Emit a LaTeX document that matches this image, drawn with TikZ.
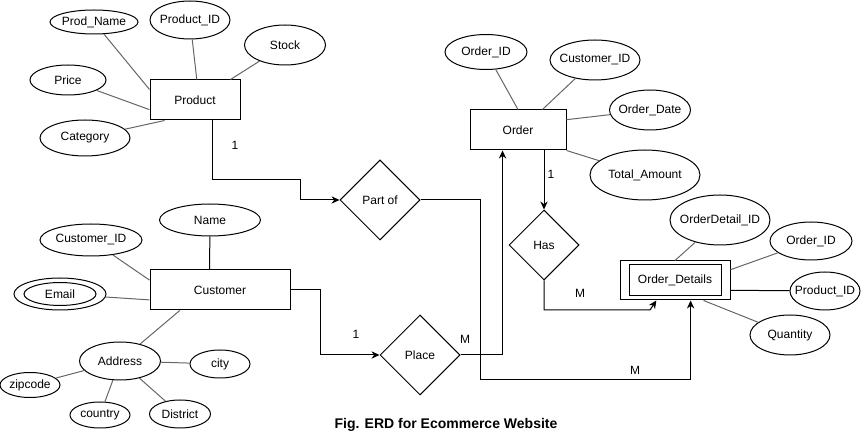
\documentclass[tikz,border=0pt]{standalone}
\usepackage{fontspec}
\setmainfont{Liberation Sans}
\usetikzlibrary{shapes.geometric,arrows.meta,calc,positioning}
\definecolor{AttrGray}{RGB}{102,102,102}
\tikzset{
  entity/.style 2 args={draw,rectangle,line width=0.75pt,inner sep=0pt,
               minimum width=0.75pt*#1,minimum height=0.75pt*#2,
               font=\fontsize{9}{11}\selectfont},
  attr/.style 2 args={draw,ellipse,line width=0.75pt,inner sep=0pt,
               minimum width=0.75pt*#1,minimum height=0.75pt*#2,
               font=\fontsize{9}{11}\selectfont,
               execute at begin node={\setbox0=\hbox\bgroup},
               execute at end node={\egroup\hbox to 0pt{\hss\box0\hss}}},
  relation/.style={draw,diamond,line width=0.75pt,inner sep=0pt,
               minimum width=0.75pt*#1,minimum height=0.75pt*#1,
               font=\fontsize{9}{11}\selectfont},
  attline/.style={AttrGray,line width=0.75pt},
  link/.style={-{Stealth[length=6pt,width=5.5pt]},line width=0.75pt},
  card/.style={inner sep=0pt,font=\fontsize{9}{11}\selectfont},
}

\begin{document}
\begin{tikzpicture}[x=0.75pt,y=-0.75pt]
\useasboundingbox (0,0) rectangle (861,441);

\node[entity={90}{40}] (prod) at (195,100) {Product};
\node[attr={88}{24}] (pname) at (94,22) {Prod\_Name};
\node[attr={80}{38}] (pid) at (190,20) {Product\_ID};
\node[attr={81}{40}] (stock) at (285,45) {Stock};
\node[attr={76}{30}] (price) at (68,80) {Price};
\node[attr={90}{36}] (cat) at (85,138) {Category};

\node[entity={96}{40}] (order) at (518,130) {Order};
\node[attr={82}{35}] (oid) at (486,52) {Order\_ID};
\node[attr={90}{40}] (ocid) at (595,60) {Customer\_ID};
\node[attr={81}{40}] (odate) at (650,110) {Order\_Date};
\node[attr={110}{50}] (oamt) at (645,175) {Total\_Amount};

\node[entity={140}{40}] (cust) at (220,290) {Customer};
\node[attr={101}{32}] (cname) at (210,220) {Name};
\node[attr={102}{32}] (cid) at (91,240) {Customer\_ID};
\node[attr={92}{32}] (email) at (60,294) {Email};
\draw[line width=0.75pt] (email.center) ellipse [x radius=27pt,y radius=8.6pt];
\node[attr={81}{38}] (addr) at (120,361) {Address};
\node[attr={60}{28}] (city) at (220,364) {city};
\node[attr={60}{25}] (zip) at (30,385) {zipcode};
\node[attr={60}{26}] (country) at (100,415) {country};
\node[attr={61}{28}] (district) at (180,414) {District};

\node[relation=80] (partof) at (380,200) {Part of};
\node[relation=80] (place) at (420,355) {Place};
\node[relation=70] (has) at (544,245) {Has};

\node[entity={110}{39}] (odet) at (675,280.5) {Order\_Details};
\draw[line width=0.75pt] ($(odet.south west)+(7.5pt,3.75pt)$) rectangle ($(odet.north east)+(-6.75pt,-3pt)$);
\node[attr={100}{50}] (odid) at (720,220) {OrderDetail\_ID};
\node[attr={82}{38}] (doid) at (811,241) {Order\_ID};
\node[attr={70}{38}] (dpid) at (825,291) {Product\_ID};
\node[attr={80}{40}] (qty) at (790,335) {Quantity};

\draw[attline] (pname) -- (prod.167);
\draw[attline] (pid) -- (prod.85);
\draw[attline] (stock) -- (prod.30);
\draw[attline] (price) -- (prod.192);
\draw[attline] (cat) -- (prod.214);
\draw[attline] (oid) -- (order.north);
\draw[attline] (ocid) -- (order.40);
\draw[attline] (odate) -- (order.12);
\draw[attline] (oamt) -- (order.south east);
\draw[line width=0.75pt] (cname) -- (cust.117);
\draw[attline] (cid) -- (cust.172);
\draw[attline] (email) -- (cust.188);
\draw[attline] (addr) -- (cust.207);
\draw[attline] (addr) -- (city);
\draw[attline] (addr) -- (zip);
\draw[attline] (addr) -- (country);
\draw[attline] (addr) -- (district);
\draw[attline] (odid) -- (odet.north);
\draw[attline] (doid) -- (odet.11);
\draw[line width=0.75pt] (dpid) -- (odet.-10);
\draw[attline] (qty) -- (odet.-35);

\coordinate (pb) at (300,180);
\coordinate (cb) at (320,290);
\coordinate (pob) at (480,380);
\coordinate (hb) at (650,310);

\draw[link] (prod.-50) |- (pb) |- (partof.west);
\draw[link] (cust.east) -- (cb) |- (place.west);
\draw[link] (place.east) -| (order.233);
\draw[link] (partof.east) -| (pob) -| (odet.-52);
\draw[link] (has.north |- order.south) -- (has.north);
\draw[link] (has.south) |- (hb) -- (odet.227);

\node[card] (c1) at (235,145) {1};
\node[card] (c2) at (356,334) {1};
\node[card] (c3) at (465,339) {M};
\node[card] (c4) at (551,174) {1};
\node[card] (c5) at (580,293) {M};
\node[card] (c6) at (635,370) {M};

\node[font=\bfseries\fontsize{10.5}{12}\selectfont] (caption) at (446,425) {Fig. ERD for Ecommerce Website};
\end{tikzpicture}
\end{document}
